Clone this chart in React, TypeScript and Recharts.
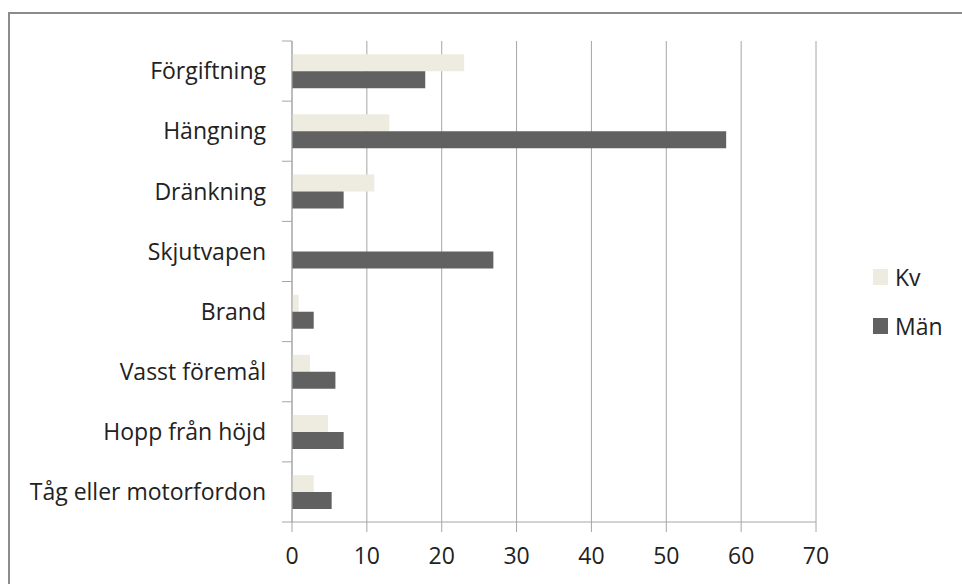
import React from "react"
import { Bar, BarChart, XAxis, YAxis, CartesianGrid } from "recharts"

const categories = [
    "Förgiftning",
    "Hängning",
    "Dränkning",
    "Skjutvapen",
    "Brand",
    "Vasst föremål",
    "Hopp från höjd",
    "Tåg eller motorfordon",
]
const kv = [23, 13, 11, 0, 0.9, 2.4, 4.8, 2.9]
const man = [17.8, 58, 6.9, 26.9, 2.9, 5.8, 6.9, 5.3]
const xTicks = [0, 10, 20, 30, 40, 50, 60, 70]
const seriesNames = ["Kv", "Män"]

const data = categories.map((name, i) => ({ name, kv: kv[i], man: man[i] }))

const W = 962
const H = 584
const M = { top: 41, left: 8, right: 146, bottom: 22 }
const Y_W = 284
const X_H = 40
const PLOT_H = H - M.top - M.bottom - X_H
const BAND = PLOT_H / categories.length

const FONT = "'Open Sans', sans-serif"
const TEXT = "#222222"
const GRID = "#a6a6a6"
const KV_COLOR = "#eeece1"
const MAN_COLOR = "#616161"

// category ticks sit at band edges, like Excel draws them
const CategoryTick = ({ x, y, payload, index, visibleTicksCount }: any) => {
    const lx = x + 16
    const top = y - BAND / 2
    return (
        <g>
            <line x1={lx} x2={lx + 10} y1={top} y2={top} stroke={GRID} />
            {index === visibleTicksCount - 1 && (
                <line x1={lx} x2={lx + 10} y1={y + BAND / 2} y2={y + BAND / 2} stroke={GRID} />
            )}
            <text x={x} y={y} dy="0.36em" textAnchor="end" fill={TEXT} fontSize={23} fontFamily={FONT}>
                {payload.value}
            </text>
        </g>
    )
}

export default function App() {
    return (
        <div style={{ position: "fixed", left: 0, top: 0, width: W, height: H, background: "#fff" }}>
            <div
                style={{
                    position: "fixed",
                    left: 8,
                    top: 12,
                    width: 1000,
                    height: 1000,
                    borderTop: "2px solid #8c8c8c",
                    borderLeft: "2px solid #8c8c8c",
                    boxSizing: "border-box",
                }}
            />
            <div style={{ position: "absolute", left: 0, top: 0 }}>
                <BarChart
                    width={W}
                    height={H}
                    data={data}
                    layout="vertical"
                    margin={M}
                    barCategoryGap="22%"
                    barGap={0}
                >
                    <CartesianGrid horizontal={false} stroke={GRID} />
                    <XAxis
                        type="number"
                        domain={[0, 70]}
                        ticks={xTicks}
                        height={X_H}
                        stroke={GRID}
                        tickSize={10}
                        tickMargin={16}
                        tick={{ fill: TEXT, fontSize: 23, fontFamily: FONT }}
                    />
                    <YAxis
                        type="category"
                        dataKey="name"
                        width={Y_W}
                        stroke={GRID}
                        tickLine={false}
                        tickSize={10}
                        tickMargin={16}
                        interval={0}
                        tick={<CategoryTick />}
                    />
                    <Bar dataKey="kv" name={seriesNames[0]} fill={KV_COLOR} isAnimationActive={false} />
                    <Bar dataKey="man" name={seriesNames[1]} fill={MAN_COLOR} isAnimationActive={false} />
                </BarChart>
            </div>
            <div style={{ position: "absolute", left: 873, top: 264, fontFamily: FONT, fontSize: 23, color: TEXT }}>
                {seriesNames.map((s, i) => (
                    <div key={s} style={{ display: "flex", alignItems: "center", height: 26, marginBottom: 23 }}>
                        <span
                            style={{
                                display: "inline-block",
                                width: 15,
                                height: 16,
                                background: i === 0 ? KV_COLOR : MAN_COLOR,
                                marginRight: 7,
                            }}
                        />
                        <span style={{ lineHeight: "26px" }}>{s}</span>
                    </div>
                ))}
            </div>
        </div>
    )
}
